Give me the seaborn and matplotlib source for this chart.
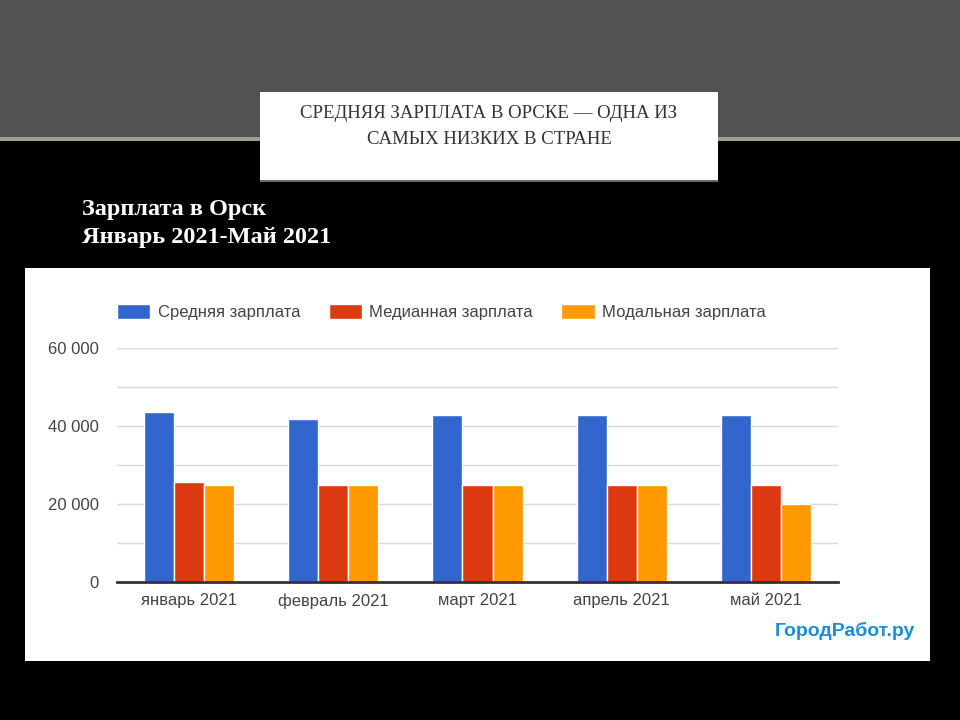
import numpy as np
import pandas as pd
import matplotlib
matplotlib.use("Agg")
import matplotlib.pyplot as plt
from matplotlib.patches import Rectangle
from matplotlib.ticker import FuncFormatter, MultipleLocator
import seaborn as sns

months = ["январь 2021", "февраль 2021", "март 2021", "апрель 2021", "май 2021"]
series = ["Средняя зарплата", "Медианная зарплата", "Модальная зарплата"]
avg_salary = [43600, 41800, 42800, 42800, 42800]
median_salary = [25700, 25000, 25000, 25000, 25000]
mode_salary = [25000, 25000, 25000, 25000, 20000]
colors = ["#3366cc", "#dc3912", "#ff9900"]

df = pd.DataFrame({
    "month": months * 3,
    "series": [s for s in series for _ in months],
    "value": avg_salary + median_salary + mode_salary,
})

sns.set_theme(style="white")
plt.rcParams["font.family"] = ["Liberation Sans", "DejaVu Sans"]

W, H = 960, 720
fig = plt.figure(figsize=(9.6, 7.2), dpi=100)
fig.patch.set_facecolor("black")

def rect(x0, y0, x1, y1, color, z=0):
    # pixel box -> figure coords
    fig.add_artist(Rectangle((x0 / W, 1 - y1 / H), (x1 - x0) / W, (y1 - y0) / H,
                             transform=fig.transFigure, facecolor=color,
                             edgecolor="none", zorder=z))

# slide background
rect(0, 0, W, 138, "#525252")
rect(0, 137, W, 141, "#9e9c8e")
rect(25, 268, 930, 661, "white")
rect(260, 92, 718, 182, "#6a6a6a", z=1)
rect(260, 92, 718, 180, "white", z=2)

serif = ["Liberation Serif", "DejaVu Serif"]
fig.text(489 / W, 1 - 114 / H, "СРЕДНЯЯ ЗАРПЛАТА В ОРСКЕ — ОДНА ИЗ",
         ha="center", va="center", fontsize=13.5, color="#333333",
         family=serif, zorder=3)
fig.text(489 / W, 1 - 139 / H, "САМЫХ НИЗКИХ В СТРАНЕ",
         ha="center", va="center", fontsize=13.5, color="#333333",
         family=serif, zorder=3)
fig.text(82 / W, 1 - 209 / H, "Зарплата в Орск", ha="left", va="center",
         fontsize=17.5, fontweight="bold", color="white", family=serif)
fig.text(82 / W, 1 - 238 / H, "Январь 2021-Май 2021", ha="left", va="center",
         fontsize=17.5, fontweight="bold", color="white", family=serif)

ax = fig.add_axes([117 / W, 1 - 582 / H, 721 / W, 234 / H])
ax.set_facecolor("white")
sns.barplot(data=df, x="month", y="value", hue="series", hue_order=series,
            palette=colors, width=0.625, edgecolor="white", linewidth=1,
            saturation=1, ax=ax)

ax.set_ylim(0, 60000)
ax.yaxis.set_major_locator(MultipleLocator(20000))
ax.yaxis.set_minor_locator(MultipleLocator(10000))
ax.yaxis.set_major_formatter(FuncFormatter(lambda v, p: f"{int(v):,}".replace(",", " ")))
ax.grid(axis="y", which="both", color="#d9d9d9", linewidth=1)
ax.set_axisbelow(True)
for s in ["top", "right", "left"]:
    ax.spines[s].set_visible(False)
ax.spines["bottom"].set_color("#333333")
ax.spines["bottom"].set_linewidth(2)
ax.set_xlabel("")
ax.set_ylabel("")
ax.tick_params(axis="both", length=0, labelsize=12, labelcolor="#444444")
ax.tick_params(axis="y", pad=13)
ax.tick_params(axis="x", pad=8)

handles, labels = ax.get_legend_handles_labels()
ax.legend(handles, labels, loc="center left", bbox_to_anchor=(0, 1 + 36 / 234),
          ncol=3, frameon=False, fontsize=12, labelcolor="#444444",
          handlelength=2, handleheight=1, handletextpad=0.45,
          columnspacing=1.7, borderaxespad=0, borderpad=0)

fig.text(915 / W, 1 - 631 / H, "ГородРабот.ру", ha="right", va="center",
         fontsize=14, fontweight="bold", color="#1a8fd8")

fig.savefig("out.png", dpi=100, facecolor=fig.get_facecolor())
